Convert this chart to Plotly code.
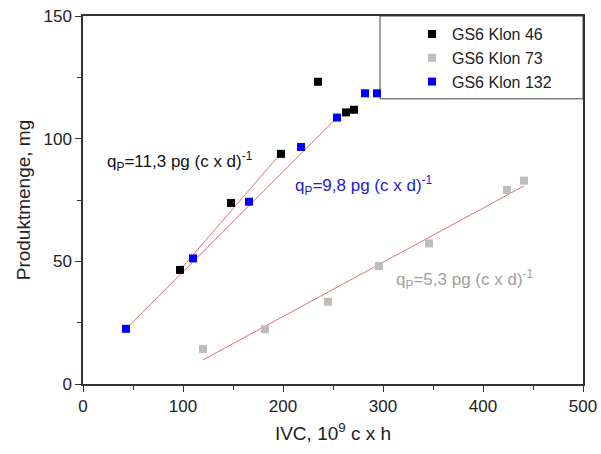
import plotly.graph_objects as go

# ---- data ----
k46_x = [97, 148, 198, 235, 263, 271]
k46_y = [46.5, 73.8, 93.8, 123.2, 110.7, 111.8]

k73_x = [120, 182, 245, 296, 346, 424, 441]
k73_y = [14.3, 22.3, 33.5, 48.1, 57.3, 79.1, 82.9]

k132_x = [43, 110, 166, 218, 254, 282, 294]
k132_y = [22.5, 51.2, 74.3, 96.6, 108.6, 118.5, 118.5]

# linear fits: slope (mg per 10^9 c x h), intercept, x-range
fit_slope = [0.471, 0.221, 0.408]
fit_intercept = [0.81, -16.7, 4.96]
fit_x_start = [95, 120, 43]
fit_x_end = [198, 441, 254]

qp_labels = ["11,3", "5,3", "9,8"]
qp_x = [22, 311, 210]
qp_y = [90.5, 42.8, 81.1]
qp_colors = ["#111111", "#a0a0a0", "#2222cc"]

series_names = ["GS6 Klon 46", "GS6 Klon 73", "GS6 Klon 132"]
series_colors = ["#000000", "#bdbdbd", "#0000ff"]

x_ticks = [0, 100, 200, 300, 400, 500]
y_ticks = [0, 50, 100, 150]

FONT = "Liberation Sans, Arial, sans-serif"

fig = go.Figure()

# fit lines
for s, b, x0, x1 in zip(fit_slope, fit_intercept, fit_x_start, fit_x_end):
    fig.add_trace(go.Scatter(
        x=[x0, x1], y=[s * x0 + b, s * x1 + b], mode="lines",
        line=dict(color="#e07070", width=1), showlegend=False, hoverinfo="skip"))

for name, col, xs, ys in zip(series_names, series_colors,
                             [k46_x, k73_x, k132_x], [k46_y, k73_y, k132_y]):
    fig.add_trace(go.Scatter(
        x=xs, y=ys, mode="markers", name=name,
        marker=dict(symbol="square", size=8, color=col,
                    line=dict(width=0))))

for lab, x, y, c in zip(qp_labels, qp_x, qp_y, qp_colors):
    fig.add_annotation(
        x=x, y=y, xref="x", yref="y", xanchor="left", yanchor="middle",
        text=f"q<sub>P</sub>={lab} pg (c x d)<sup>-1</sup>",
        showarrow=False, font=dict(family=FONT, size=17, color=c))

axis_common = dict(
    showline=True, linecolor="#333333", linewidth=1.5, mirror=True,
    ticks="outside", ticklen=6, tickwidth=1.2, tickcolor="#333333",
    showgrid=False, zeroline=False, automargin=False,
    tickfont=dict(family=FONT, size=17, color="#222222"),
)

fig.update_xaxes(
    range=[0, 500], tickvals=x_ticks,
    minor=dict(ticks="outside", ticklen=4, tickwidth=1.2, tickcolor="#333333", dtick=50),
    title=dict(text="IVC, 10<sup>9</sup> c x h", font=dict(family=FONT, size=19, color="#222222"), standoff=12),
    **axis_common)
fig.update_yaxes(
    range=[0, 150], tickvals=y_ticks,
    minor=dict(ticks="outside", ticklen=4, tickwidth=1.2, tickcolor="#333333", dtick=25),
    title=dict(text="Produktmenge, mg", font=dict(family=FONT, size=19, color="#222222"), standoff=8),
    **axis_common)

# legend box
fig.add_shape(type="rect", xref="paper", yref="paper",
              x0=0.594, x1=1.0, y0=0.775, y1=1.0,
              line=dict(color="#444444", width=1), fillcolor="rgba(0,0,0,0)", layer="below")

fig.update_layout(
    width=601, height=454,
    margin=dict(l=83, r=18, t=16, b=70, autoexpand=False),
    paper_bgcolor="white", plot_bgcolor="white",
    showlegend=True,
    legend=dict(x=0.658, xanchor="left", y=0.997, yanchor="top",
                bgcolor="rgba(0,0,0,0)", borderwidth=0,
                font=dict(family=FONT, size=16, color="#222222"),
                tracegroupgap=0, itemwidth=30),
)

fig.write_html("out.html")
